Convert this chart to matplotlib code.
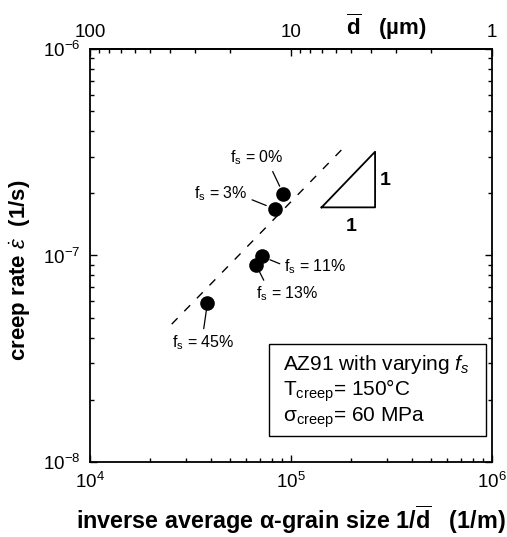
# クリープ速度と平均粒径の関係（両対数）
import matplotlib.pyplot as plt
from matplotlib.patches import Rectangle
from matplotlib.ticker import FuncFormatter, NullFormatter

plt.rcParams["font.family"] = ["Liberation Sans", "DejaVu Sans"]
plt.rcParams["mathtext.fontset"] = "custom"
plt.rcParams["mathtext.rm"] = "Liberation Sans"
plt.rcParams["mathtext.it"] = "Liberation Sans:italic"
plt.rcParams["mathtext.bf"] = "Liberation Sans:bold"
plt.rcParams["axes.unicode_minus"] = False

# 測定点 (1/d [1/m], クリープ速度 [1/s])
fs_labels = ["0%", "3%", "11%", "13%", "45%"]
inv_d = [9.15e4, 8.3e4, 7.15e4, 6.7e4, 3.84e4]
creep_rate = [1.99e-7, 1.68e-7, 9.9e-8, 9.0e-8, 5.9e-8]

# 傾き1の破線
fit_x = [2.55e4, 1.89e5]
fit_y = [4.65e-8, 3.44e-7]

# 傾きを示す三角形
tri_x = [1.42e5, 2.62e5, 2.62e5, 1.42e5]
tri_y = [1.71e-7, 1.71e-7, 3.18e-7, 1.71e-7]

fig = plt.figure(figsize=(5.07, 5.37), dpi=100)
ax = fig.add_axes([0.1775, 0.1397, 0.7929, 0.7691])
ax.set_xscale("log")
ax.set_yscale("log")
ax.set_xlim(1e4, 1e6)
ax.set_ylim(1e-8, 1e-6)

ax.plot(fit_x, fit_y, color="black", lw=1.0, dashes=(6, 7))
ax.plot(inv_d, creep_rate, "o", color="black", ms=9.5, zorder=3)
ax.plot(tri_x, tri_y, color="black", lw=1.3)
ax.text(2.62e5 * 1.05, 2.3e-7, "1", fontsize=14, fontweight="bold", ha="left", va="center")
ax.text(2.0e5, 1.71e-7 / 1.12, "1", fontsize=14, fontweight="bold", ha="center", va="top")

# ラベルの位置（点からのオフセット pt）
label_pos = {
    "0%": ((-19, 22.3), (0.76, 0.0), 6.0),
    "3%": ((-38.5, 7.9), (1.0, 0.24), 6.6),
    "11%": ((38.4, -10.8), (0.0, 0.57), 6.4),
    "13%": ((22.3, -24.0), (0.16, 1.0), 5.5),
    "45%": ((-3.1, -31.7), (0.5, 1.0), 5.5),
}
for lab, x, y in zip(fs_labels, inv_d, creep_rate):
    off, rel, shr = label_pos[lab]
    ax.annotate("f$_{\\mathrm{s}}$ = " + lab, xy=(x, y), xytext=off,
                textcoords="offset points", ha="center", va="baseline", fontsize=11.5,
                arrowprops=dict(arrowstyle="-", color="black", lw=0.9,
                                relpos=rel, shrinkA=1, shrinkB=shr))

# 条件の枠
ax.add_patch(Rectangle((0.446, 0.063), 0.538, 0.2227, transform=ax.transAxes,
                       fill=False, edgecolor="black", lw=1.0))
ax.text(0.48, 0.235, "AZ91 with varying $\\mathit{f}_{s}$", transform=ax.transAxes,
        fontsize=15, va="center", ha="left")
ax.text(0.48, 0.172, "T$_{\\mathrm{creep}}$= 150°C", transform=ax.transAxes,
        fontsize=15, va="center", ha="left")
ax.text(0.48, 0.107, "σ$_{\\mathrm{creep}}$= 60 MPa", transform=ax.transAxes,
        fontsize=15, va="center", ha="left")

ax.tick_params(which="both", direction="in", top=False, right=True, labelsize=13.5)
ax.tick_params(which="major", length=5, width=1, pad=7)
ax.tick_params(which="minor", length=3.2, width=1)
for s in ax.spines.values():
    s.set_linewidth(1.3)

ax.set_xlabel("inverse average α-grain size 1/$\\overline{\\mathbf{d}}$   (1/m)",
              fontsize=16.8, fontweight="bold")
ax.xaxis.set_label_coords(0.5, -0.1)
ax.set_ylabel("creep rate $\\dot{\\epsilon}$  (1/s)", fontsize=16, fontweight="bold")
ax.yaxis.set_label_coords(-0.142, 0.465)

# 上軸：平均粒径 d (µm)
top = ax.secondary_xaxis("top", functions=(lambda x: 1e6 / x, lambda d: 1e6 / d))
top.xaxis.set_major_formatter(
    FuncFormatter(lambda v, p: f"{v:g}" if 0.99 <= v <= 101 else ""))
top.xaxis.set_minor_formatter(NullFormatter())
top.tick_params(which="both", direction="in", labelsize=13.5)
top.tick_params(which="major", length=5, width=1, pad=6)
top.tick_params(which="minor", length=3.2, width=1)
top.spines["top"].set_linewidth(1.3)
ax.text(0.736, 1.053, "$\\overline{\\mathbf{d}}$   (µm)", transform=ax.transAxes,
        fontsize=16, fontweight="bold", ha="center", va="center")

fig.savefig("out.png", dpi=100)
